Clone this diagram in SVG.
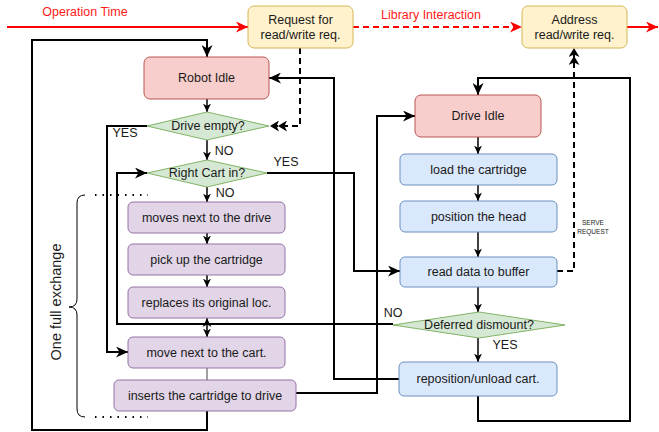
<svg xmlns="http://www.w3.org/2000/svg" width="659" height="432" viewBox="0 0 659 432">
<style>
text{font-family:"Liberation Sans",Arial,sans-serif;font-size:12.5px;fill:#1a1a1a;text-anchor:middle}
.yel{fill:#fff2cc;stroke:#d6b656;stroke-width:1}
.red{fill:#f8cecc;stroke:#b85450;stroke-width:1}
.pur{fill:#e1d5e7;stroke:#9673a6;stroke-width:1}
.blu{fill:#dae8fc;stroke:#6c8ebf;stroke-width:1}
.dia{fill:#d5e8d4;stroke:#82b366;stroke-width:1}
.thick{fill:none;stroke:#000;stroke-width:2;marker-end:url(#ah)}
.thin{fill:none;stroke:#000;stroke-width:1.5;marker-end:url(#as)}
.dash{fill:none;stroke:#000;stroke-width:2;stroke-dasharray:6 4;marker-end:url(#dbl)}
</style>
<defs>
<marker id="ah" markerUnits="userSpaceOnUse" markerWidth="13" markerHeight="11" refX="12" refY="5.5" orient="auto"><path d="M0,0 L12,5.5 L0,11 L3.5,5.5 z" fill="#000"/></marker>
<marker id="as" markerUnits="userSpaceOnUse" markerWidth="9" markerHeight="8" refX="8.5" refY="4" orient="auto"><path d="M0,0 L8.5,4 L0,8 L2.5,4 z" fill="#000"/></marker>
<marker id="dbl" markerUnits="userSpaceOnUse" markerWidth="18" markerHeight="11" refX="17" refY="5.5" orient="auto"><path d="M0,0 L9,5.5 L0,11 L2.5,5.5 z M8,0 L17,5.5 L8,11 L10.5,5.5 z" fill="#000"/></marker>
<marker id="ar" markerUnits="userSpaceOnUse" markerWidth="13" markerHeight="11" refX="12" refY="5.5" orient="auto"><path d="M0,0 L12,5.5 L0,11 L3.5,5.5 z" fill="#ff0000"/></marker>
</defs>

<g id="timeline">
<line x1="7" y1="27" x2="248" y2="27" stroke="#ff0000" stroke-width="2" marker-end="url(#ar)"/>
<line x1="353" y1="27" x2="522" y2="27" stroke="#ff0000" stroke-width="2" stroke-dasharray="6 4" marker-end="url(#ar)"/>
<line x1="627" y1="27" x2="658" y2="27" stroke="#ff0000" stroke-width="2" marker-end="url(#ar)"/>
<text x="85" y="16" style="fill:#ff1a1a">Operation Time</text>
<text x="431" y="19" style="fill:#ff1a1a">Library Interaction</text>
</g>

<g id="connectors">
<path class="thick" d="M207,411 V430 H32 V40 H207 V57"/>
<path class="thin" d="M207,99 V112"/>
<path class="dash" d="M300,48 V126 H270"/>
<path class="thick" d="M399,379 H334 V78 H269"/>
<path class="thick" d="M147,126 H107 V352 H128"/>
<path class="thin" d="M207,140 V160"/>
<path class="thick" d="M267,173 H354 V271 H400"/>
<path class="thin" d="M207,187 V202"/>
<path class="thin" d="M207,233 V244"/>
<path class="thin" d="M207,275 V287"/>
<path class="thin" d="M207,318 V337"/>
<path d="M202.5,327 L207,318.5 L211.5,327 L207,324.5 z" fill="#000"/>
<line x1="207" y1="368" x2="207" y2="380" stroke="#808080" stroke-width="1.5"/>
<path class="thick" d="M393,324 H117 V173 H147"/>
<path class="thick" d="M296,393 H377 V116 H415"/>
<path class="thick" d="M478,396 V421 H630 V78 H478 V95"/>
<path class="thin" d="M478,137 V154"/>
<path class="thin" d="M478,185 V201"/>
<path class="thin" d="M478,232 V257"/>
<path class="thin" d="M478,287 V312"/>
<path class="thin" d="M478,338 V362"/>
<path class="dash" d="M557,271 H574 V48"/>
<text x="125" y="137">YES</text>
<text x="224" y="155">NO</text>
<text x="286" y="166">YES</text>
<text x="225" y="197">NO</text>
<text x="393" y="317">NO</text>
<text x="505" y="349">YES</text>
<text x="593" y="225" style="font-size:6.5px">SERVE</text>
<text x="593" y="234" style="font-size:6.5px">REQUEST</text>
</g>

<g id="request">
<rect class="yel" x="248" y="6" width="105" height="42" rx="6"/>
<text x="300.5" y="24">Request for</text>
<text x="300.5" y="39">read/write req.</text>
</g>
<g id="address">
<rect class="yel" x="522" y="6" width="105" height="42" rx="6"/>
<text x="574.5" y="24">Address</text>
<text x="574.5" y="39">read/write req.</text>
</g>

<g id="robot-idle">
<rect class="red" x="144" y="57" width="125" height="42" rx="6"/>
<text x="206.5" y="82">Robot Idle</text>
</g>
<g id="drive-empty">
<polygon class="dia" points="147,126 207,112 269,126 207,140"/>
<text x="208" y="130">Drive empty?</text>
</g>
<g id="right-cart">
<polygon class="dia" points="147,173 207,160 267,173 207,187"/>
<text x="207" y="177">Right Cart in?</text>
</g>
<g id="moves-next">
<rect class="pur" x="128" y="202" width="157" height="31" rx="5"/>
<text x="206.5" y="222">moves next to the drive</text>
</g>
<g id="pick-up">
<rect class="pur" x="128" y="244" width="157" height="31" rx="5"/>
<text x="206.5" y="264">pick up the cartridge</text>
</g>
<g id="replaces">
<rect class="pur" x="128" y="287" width="157" height="31" rx="5"/>
<text x="206.5" y="307">replaces its original loc.</text>
</g>
<g id="move-cart">
<rect class="pur" x="128" y="337" width="157" height="31" rx="5"/>
<text x="206.5" y="357">move next to the cart.</text>
</g>
<g id="inserts">
<rect class="pur" x="114" y="380" width="182" height="31" rx="5"/>
<text x="205" y="400">inserts the cartridge to drive</text>
</g>

<g id="drive-idle">
<rect class="red" x="415" y="95" width="126" height="42" rx="6"/>
<text x="478" y="120">Drive Idle</text>
</g>
<g id="load">
<rect class="blu" x="400" y="154" width="157" height="31" rx="5"/>
<text x="478.5" y="174">load the cartridge</text>
</g>
<g id="position">
<rect class="blu" x="400" y="201" width="157" height="31" rx="5"/>
<text x="478.5" y="221">position the head</text>
</g>
<g id="read">
<rect class="blu" x="400" y="257" width="157" height="30" rx="5"/>
<text x="478.5" y="276">read data to buffer</text>
</g>
<g id="deferred">
<polygon class="dia" points="393,325 479,312 565,325 479,338"/>
<text x="479" y="329">Deferred dismount?</text>
</g>
<g id="reposition">
<rect class="blu" x="399" y="362" width="158" height="34" rx="5"/>
<text x="478" y="383">reposition/unload cart.</text>
</g>

<g id="exchange-brace">
<path d="M85,195 Q77,195 77,203 V299 Q77,307 69,307 Q77,307 77,315 V409 Q77,417 85,417" fill="none" stroke="#000" stroke-width="1"/>
<line x1="95" y1="195" x2="148" y2="195" stroke="#000" stroke-width="2" stroke-dasharray="1.5 6"/>
<line x1="95" y1="417" x2="148" y2="417" stroke="#000" stroke-width="2" stroke-dasharray="1.5 6"/>
<text transform="translate(56,302) rotate(-90)" y="5" style="font-size:14.5px">One full exchange</text>
</g>
</svg>
